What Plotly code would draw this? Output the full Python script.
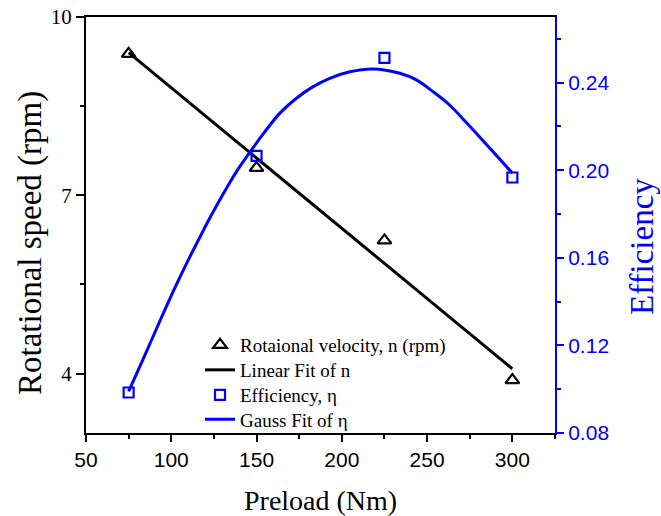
import plotly.graph_objects as go

# ---- data ----
preload = [75, 150, 225, 300]
speed = [9.38, 7.46, 6.24, 3.89]
efficiency = [0.0985, 0.2066, 0.2513, 0.1967]

linfit_x = [75, 300]
linfit_y = [9.40, 4.08]

gauss_x = [75, 81.6, 88.5, 95.3, 102.1, 109.0, 115.5, 122.6, 133.4, 139.2, 147.1, 153.9, 163.7, 173.4,
           183.2, 192.9, 204.7, 218.3, 234.0, 243.7, 253.5, 263.2, 273.0, 282.8, 292.5, 300]
gauss_y = [0.0990, 0.1104, 0.1226, 0.1346, 0.1463, 0.1575, 0.1675, 0.1782, 0.1932, 0.2005, 0.2093, 0.2166,
           0.2261, 0.2329, 0.2382, 0.2420, 0.2450, 0.2463, 0.2443, 0.2413, 0.2359, 0.2298, 0.2218, 0.2135,
           0.2052, 0.1987]

x_ticks = [50, 100, 150, 200, 250, 300]
left_ticks = [4, 7, 10]
right_ticks = [0.08, 0.12, 0.16, 0.20, 0.24]

BLUE = "#0000FF"
SERIF = "Liberation Serif, Times New Roman, serif"
SANS = "Liberation Sans, Arial, sans-serif"

W, H = 661, 516
L, R, T, B = 86, 106, 17, 83
pw = W - L - R
ph = H - T - B

fig = go.Figure()

fig.add_trace(go.Scatter(
    x=preload, y=speed, mode="markers", name="Rotaional velocity, n (rpm)", legend="legend",
    marker=dict(symbol="triangle-up-open", size=12, color="black", line=dict(width=2.2, color="black")),
))
fig.add_trace(go.Scatter(
    x=linfit_x, y=linfit_y, mode="lines", name="Linear Fit of n", legend="legend2",
    line=dict(color="black", width=3),
))
fig.add_trace(go.Scatter(
    x=gauss_x, y=gauss_y, mode="lines", name="Gauss Fit of η", yaxis="y2", legend="legend4",
    line=dict(color=BLUE, width=3, shape="spline", smoothing=1.0),
))
fig.add_trace(go.Scatter(
    x=preload, y=efficiency, mode="markers", name="Efficiency, η", yaxis="y2", legend="legend3",
    marker=dict(symbol="square-open", size=10, color=BLUE, line=dict(width=2.2, color=BLUE)),
))


def leg(row_y):
    return dict(
        x=(200 - L) / pw, y=(H - B - row_y) / ph, xanchor="left", yanchor="middle",
        bgcolor="rgba(0,0,0,0)", borderwidth=0,
        font=dict(family=SERIF, size=19, color="black"), itemwidth=30,
    )


fig.update_layout(
    width=W, height=H,
    margin=dict(l=L, r=R, t=T, b=B, autoexpand=False),
    paper_bgcolor="white", plot_bgcolor="white",
    showlegend=True,
    legend=leg(345), legend2=leg(370), legend3=leg(395), legend4=leg(419.5),
    xaxis=dict(
        range=[50, 325], tickvals=x_ticks, ticktext=[str(v) for v in x_ticks],
        showgrid=False, zeroline=False, automargin=False,
        showline=True, linecolor="black", linewidth=2, mirror=True,
        ticks="outside", ticklen=7, tickwidth=1.5, tickcolor="black",
        tickfont=dict(family=SANS, size=21, color="black"),
        minor=dict(dtick=25, tick0=50, ticks="outside", ticklen=4, tickwidth=1.5, tickcolor="black"),
    ),
    yaxis=dict(
        range=[3, 10], tickvals=left_ticks, ticktext=[str(v) for v in left_ticks],
        showgrid=False, zeroline=False, automargin=False,
        showline=True, linecolor="black", linewidth=2,
        ticks="outside", ticklen=8, tickwidth=1.5, tickcolor="black",
        tickfont=dict(family=SERIF, size=21, color="black"),
        minor=dict(dtick=1.5, tick0=4, ticks="outside", ticklen=4, tickwidth=1.5, tickcolor="black"),
    ),
    yaxis2=dict(
        overlaying="y", side="right", anchor="x",
        range=[0.08, 0.27], tickvals=right_ticks, ticktext=["%.2f" % v for v in right_ticks],
        showgrid=False, zeroline=False, automargin=False,
        showline=True, linecolor=BLUE, linewidth=2,
        ticks="outside", ticklen=7, tickwidth=1.5, tickcolor=BLUE,
        tickfont=dict(family=SANS, size=21, color=BLUE),
        minor=dict(dtick=0.02, tick0=0.08, ticks="outside", ticklen=4, tickwidth=1.5, tickcolor=BLUE),
    ),
    annotations=[
        dict(text="Preload (Nm)", xref="paper", yref="paper", x=0.5, y=(H - B - 500) / ph,
             xanchor="center", yanchor="middle", showarrow=False,
             font=dict(family=SERIF, size=28, color="black")),
        dict(text="Rotational speed (rpm)", xref="paper", yref="paper", x=(30 - L) / pw,
             y=(H - B - 243) / ph, xanchor="center", yanchor="middle", showarrow=False,
             textangle=-90, font=dict(family=SERIF, size=33, color="black")),
        dict(text="Efficiency", xref="paper", yref="paper", x=(642 - L) / pw,
             y=(H - B - 247) / ph, xanchor="center", yanchor="middle", showarrow=False,
             textangle=-90, font=dict(family=SERIF, size=33, color=BLUE)),
    ],
)

fig.write_html("out.html")
